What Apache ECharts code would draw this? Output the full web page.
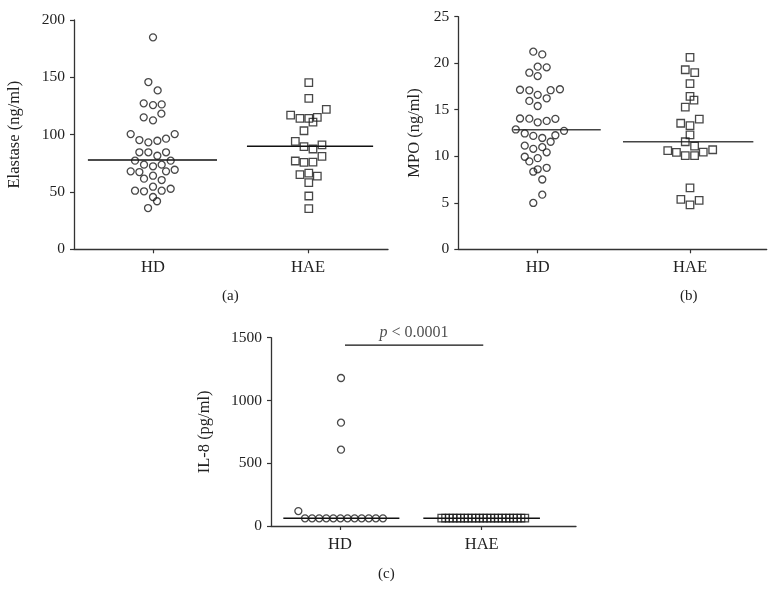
<!DOCTYPE html>
<html>
<head>
<meta charset="utf-8">
<script src="https://cdn.jsdelivr.net/npm/echarts@6/dist/echarts.min.js"></script>
<style>html,body{margin:0;padding:0;background:#fff}#c{width:777px;height:610px}</style>
</head>
<body>
<div id="c"></div>
<script>
const groups = ['HD', 'HAE'];

// Panel (a) Elastase (ng/ml)
const elastaseTicks = [0, 50, 100, 150, 200];
const elastaseHD = [184.9,145.9,138.6,127.3,125.8,126.4,115.1,112.5,118.3,100.5,95.3,93.3,94.7,96.5,100.5,84.6,84.6,81.6,84.6,77.3,73.8,72.4,73.8,77.3,68.0,67.4,64.2,68.0,69.4,61.6,60.4,51.1,50.6,54.6,51.1,52.8,45.6,41.9,36.0];
const elastaseHDx = [0,-0.03,0.03,-0.06,0,0.056,-0.06,0,0.054,-0.144,-0.088,-0.03,0.028,0.084,0.14,-0.088,-0.03,0.028,0.084,-0.116,-0.058,0,0.056,0.114,-0.144,-0.088,0,0.084,0.14,-0.058,0.056,-0.116,-0.058,0,0.056,0.114,0,0.026,-0.032];
const elastaseHAE = [145.3,131.7,117.1,114.2,114.2,115.1,111.0,122.1,103.4,94.2,89.5,87.5,91.0,77.0,75.9,76.1,81.1,65.1,66.5,63.9,58.1,46.5,35.4];
const elastaseHAEx = [0.005,0.005,-0.112,-0.052,0.005,0.06,0.032,0.118,-0.026,-0.082,-0.026,0.032,0.09,-0.082,-0.026,0.032,0.09,-0.052,0.005,0.06,0.005,0.005,0.005];
const elastaseMedian = [77.9, 89.8];
const elastaseMedianSpan = [[-0.42, 0.413], [-0.394, 0.42]];

// Panel (b) MPO (ng/ml)
const mpoTicks = [0, 5, 10, 15, 20, 25];
const mpoHD = [21.24,20.95,19.63,19.56,18.98,18.62,17.15,17.09,16.6,17.1,17.2,16.23,15.95,15.4,14.06,14.04,13.65,13.8,14.02,12.88,12.45,12.19,11.96,12.26,12.73,11.56,11.14,10.8,10.98,10.42,9.95,9.45,9.8,8.34,8.6,8.76,7.5,5.87,4.98];
const mpoHDx = [-0.029,0.03,0,0.059,-0.055,0,-0.116,-0.055,0,0.085,0.146,0.059,-0.055,0,-0.116,-0.055,0,0.059,0.116,-0.144,-0.085,-0.029,0.03,0.116,0.173,0.085,-0.085,-0.029,0.03,0.059,-0.085,-0.055,0,-0.029,0,0.059,0.03,0.03,-0.029];
const mpoHAE = [20.63,19.3,18.98,17.8,16.44,16.04,15.29,13.55,13.3,14.0,12.3,11.56,11.1,10.6,10.42,10.06,10.06,10.45,10.7,6.6,5.37,4.78,5.25];
const mpoHAEx = [0,-0.031,0.031,0,0,0.026,-0.031,-0.061,0,0.061,0,-0.031,0.03,-0.146,-0.089,-0.031,0.03,0.087,0.149,0,-0.06,0,0.06];
const mpoMedian = [12.85, 11.57];
const mpoMedianSpan = [[-0.16, 0.414], [-0.44, 0.416]];

// Panel (c) IL-8 (pg/ml)
const il8Ticks = [0, 500, 1000, 1500];
const il8HD = [119,61,61,61,61,61,61,61,61,61,61,61,61,1179,823,608];
const il8HDx = [-0.294,-0.247,-0.197,-0.147,-0.097,-0.047,0.003,0.053,0.103,0.153,0.203,0.253,0.303,0.007,0.007,0.007];
const il8HAE = [62,62,62,62,62,62,62,62,62,62,62,62,62,62,62,62,62,62,62,62,62,62,62];
const il8HAEx = [-0.282,-0.255,-0.229,-0.202,-0.175,-0.149,-0.122,-0.096,-0.069,-0.042,-0.016,0.011,0.037,0.064,0.091,0.117,0.144,0.171,0.197,0.224,0.25,0.277,0.304];
const il8Median = [61, 61];
const il8MedianSpan = [[-0.4, 0.419], [-0.412, 0.411]];
const il8Sig = {from: 1.035, to: 2.011, y: 1441, text: 'p < 0.0001'};

const FONT = '"Liberation Serif", "DejaVu Serif", serif';
const INK = '#1a1a1a';

const panels = [
  {name: 'Elastase (ng/ml)', ticks: elastaseTicks, hd: elastaseHD, hdx: elastaseHDx, hae: elastaseHAE, haex: elastaseHAEx, med: elastaseMedian, span: elastaseMedianSpan,
   grid: {left: 74, top: 20, width: 314, height: 229.3}, xmin: 0.4903, xmax: 2.516, nameGap: 51, medColor: '#111'},
  {name: 'MPO (ng/ml)', ticks: mpoTicks, hd: mpoHD, hdx: mpoHDx, hae: mpoHAE, haex: mpoHAEx, med: mpoMedian, span: mpoMedianSpan,
   grid: {left: 458.3, top: 16.7, width: 308.4, height: 232.6}, xmin: 0.4787, xmax: 2.5036, nameGap: 35, medColor: '#444'},
  {name: 'IL-8 (pg/ml)', ticks: il8Ticks, hd: il8HD, hdx: il8HDx, hae: il8HAE, haex: il8HAEx, med: il8Median, span: il8MedianSpan,
   grid: {left: 271, top: 337.7, width: 305, height: 188.3}, xmin: 0.513, xmax: 2.6655, nameGap: 58, medColor: '#111'}
];

const grid = [], xAxis = [], yAxis = [], series = [];
panels.forEach((p, k) => {
  grid.push(Object.assign({containLabel: false}, p.grid));
  xAxis.push({
    type: 'value', gridIndex: k, min: p.xmin, max: p.xmax,
    axisLine: {show: true, onZero: false, lineStyle: {color: '#333', width: 1.3}},
    axisTick: {show: true, customValues: [1, 2], length: 4, lineStyle: {color: '#333', width: 1.2}},
    axisLabel: {show: true, customValues: [1, 2], margin: 10, fontFamily: FONT, fontSize: 16.5, color: '#222',
      formatter: v => groups[Math.round(v) - 1] || ''},
    splitLine: {show: false}
  });
  const t = p.ticks;
  yAxis.push({
    type: 'value', gridIndex: k, min: t[0], max: t[t.length - 1], interval: t[1] - t[0],
    name: p.name, nameLocation: 'middle', nameGap: p.nameGap, nameRotate: 90,
    nameTextStyle: {fontFamily: FONT, fontSize: 16.5, color: '#222'},
    axisLine: {show: true, lineStyle: {color: '#333', width: 1.3}},
    axisTick: {show: true, length: 4, lineStyle: {color: '#333', width: 1.2}},
    axisLabel: {margin: 9, fontFamily: FONT, fontSize: 15.5, color: '#222', formatter: v => String(v)},
    splitLine: {show: false}
  });
  [0, 1].forEach(g => {
    series.push({
      type: 'line', xAxisIndex: k, yAxisIndex: k, silent: true, symbol: 'none', z: 1,
      data: [[g + 1 + p.span[g][0], p.med[g]], [g + 1 + p.span[g][1], p.med[g]]],
      lineStyle: {color: p.medColor, width: 1.5}
    });
  });
  series.push({
    type: 'scatter', xAxisIndex: k, yAxisIndex: k, symbol: 'circle', symbolSize: 7, z: 3,
    data: p.hd.map((v, i) => [1 + p.hdx[i], v]),
    itemStyle: {color: 'rgba(255,255,255,0)', borderColor: INK, borderWidth: 1.3}
  });
  series.push({
    type: 'scatter', xAxisIndex: k, yAxisIndex: k, symbol: 'rect', symbolSize: 7.5, z: 3,
    data: p.hae.map((v, i) => [2 + p.haex[i], v]),
    itemStyle: {color: 'rgba(255,255,255,0)', borderColor: INK, borderWidth: 1.3}
  });
});

series.push({
  type: 'line', xAxisIndex: 2, yAxisIndex: 2, silent: true, symbol: 'none',
  data: [[il8Sig.from, il8Sig.y], [il8Sig.to, il8Sig.y]],
  lineStyle: {color: '#111', width: 1.3}
});
series.push({
  type: 'scatter', xAxisIndex: 2, yAxisIndex: 2, silent: true, symbolSize: 0,
  data: [[(il8Sig.from + il8Sig.to) / 2, il8Sig.y]],
  label: {show: true, position: 'top', distance: 4,
    formatter: '{i|p} < 0.0001',
    fontFamily: FONT, fontSize: 16, color: '#222',
    rich: {i: {fontFamily: FONT, fontSize: 16, fontStyle: 'italic', color: '#222'}}}
});

const chart = echarts.init(document.getElementById('c'), null, {renderer: 'canvas'});
chart.setOption({
  backgroundColor: '#fff',
  animation: false,
  grid, xAxis, yAxis, series,
  graphic: [
    {type: 'text', left: 222, top: 289, style: {text: '(a)', font: '15px ' + FONT, fill: '#222'}},
    {type: 'text', left: 680, top: 289, style: {text: '(b)', font: '15px ' + FONT, fill: '#222'}},
    {type: 'text', left: 378, top: 567, style: {text: '(c)', font: '15px ' + FONT, fill: '#222'}}
  ]
});
</script>
</body>
</html>
